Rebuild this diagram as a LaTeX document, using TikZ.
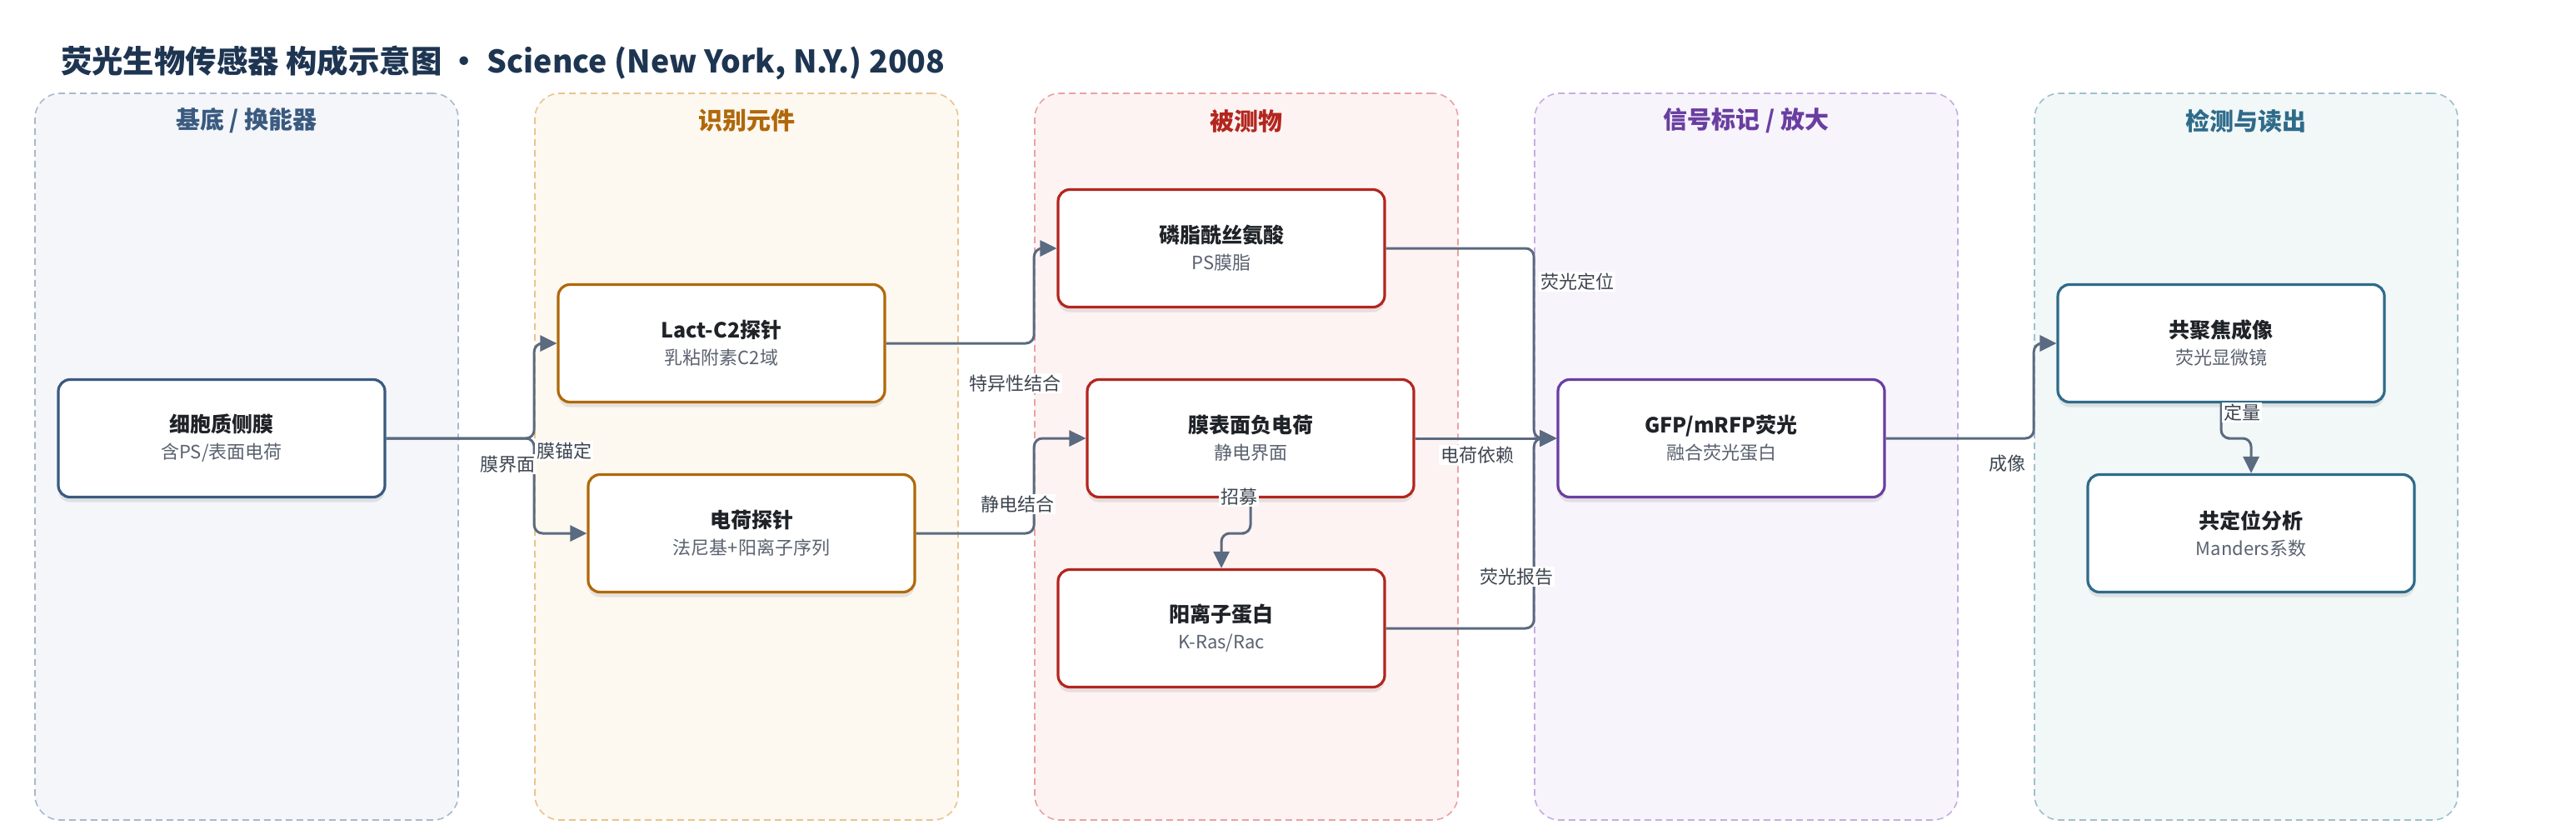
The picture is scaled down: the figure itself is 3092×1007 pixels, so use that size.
\documentclass[tikz,border=0pt]{standalone}
\usepackage{fontspec}
\setmainfont{Noto Sans CJK SC}
\usetikzlibrary{arrows.meta,calc,shadows}

\definecolor{titleblue}{HTML}{1E3552}
\definecolor{ink}{HTML}{1F2328}
\definecolor{subgray}{HTML}{5A6270}
\definecolor{edgegray}{HTML}{5A6A80}
\definecolor{lblgray}{HTML}{3D4550}
% lane colours: fill / dash / head
\definecolor{fillA}{HTML}{F4F6FA}\definecolor{dashA}{HTML}{AAB8CC}\definecolor{headA}{HTML}{3A5A80}
\definecolor{fillB}{HTML}{FDF8F0}\definecolor{dashB}{HTML}{E9C48E}\definecolor{headB}{HTML}{B0680A}
\definecolor{fillC}{HTML}{FDF3F3}\definecolor{dashC}{HTML}{E8A3A3}\definecolor{headC}{HTML}{B3261E}
\definecolor{fillD}{HTML}{F7F4FB}\definecolor{dashD}{HTML}{C5AEE0}\definecolor{headD}{HTML}{6A3EA1}
\definecolor{fillE}{HTML}{F2F7F8}\definecolor{dashE}{HTML}{9EC0CC}\definecolor{headE}{HTML}{2E6B8A}

\begin{document}
\begin{tikzpicture}[x=0.5pt, y=-0.5pt,
	lane/.style={draw, dash pattern=on 4pt off 2.5pt, line width=0.8pt, rounded corners=15pt,
		minimum width=254pt, minimum height=436pt},
	lanehead/.style={font=\bfseries\fontsize{14.5}{17}\selectfont},
	box/.style={draw, fill=white, line width=1.6pt, rounded corners=7pt, minimum width=196pt,
		minimum height=70.5pt, align=center, text=ink, font=\fontsize{12.5}{16}\selectfont,
		drop shadow={shadow xshift=0pt, shadow yshift=-3pt, opacity=0.18}},
	link/.style={draw=edgegray, line width=1.5pt, rounded corners=5pt, -{Triangle[length=10pt,width=9.5pt]}},
	lbl/.style={fill=white, inner sep=1pt, text=lblgray, font=\fontsize{11}{13}\selectfont}]
	\useasboundingbox (0,0) rectangle (3092,1007);

	% Title
	\node[anchor=west, text=titleblue, font=\bfseries\fontsize{18.7}{22}\selectfont] (title) at (66,75)
		{荧光生物传感器 构成示意图 • Science (New York, N.Y.) 2008};

	% Swim lanes
	\foreach \i/\x/\lname/\col in {1/296/{基底 / 换能器}/A, 2/896/识别元件/B, 3/1496/被测物/C,
		4/2096/{信号标记 / 放大}/D, 5/2696/检测与读出/E} {
		\node[lane, fill=fill\col, draw=dash\col] (lane\i) at (\x,548) {};
		\node[lanehead, text=head\col] (head\i) at (\x,145) {\lname};
	}

	% Components
	\node[box, draw=headA] (mem) at (266,526) {\textbf{细胞质侧膜}\\{\color{subgray}\fontsize{11}{13}\selectfont 含PS/表面电荷}};
	\node[box, draw=headB] (lact) at (866,412) {\textbf{Lact-C2探针}\\{\color{subgray}\fontsize{11}{13}\selectfont 乳粘附素C2域}};
	\node[box, draw=headB] (charge) at (902,640) {\textbf{电荷探针}\\{\color{subgray}\fontsize{11}{13}\selectfont 法尼基+阳离子序列}};
	\node[box, draw=headC] (ps) at (1466,298) {\textbf{磷脂酰丝氨酸}\\{\color{subgray}\fontsize{11}{13}\selectfont PS膜脂}};
	\node[box, draw=headC] (neg) at (1501,526) {\textbf{膜表面负电荷}\\{\color{subgray}\fontsize{11}{13}\selectfont 静电界面}};
	\node[box, draw=headC] (cat) at (1466,754) {\textbf{阳离子蛋白}\\{\color{subgray}\fontsize{11}{13}\selectfont K-Ras/Rac}};
	\node[box, draw=headD] (gfp) at (2066,526) {\textbf{GFP/mRFP荧光}\\{\color{subgray}\fontsize{11}{13}\selectfont 融合荧光蛋白}};
	\node[box, draw=headE] (conf) at (2666,412) {\textbf{共聚焦成像}\\{\color{subgray}\fontsize{11}{13}\selectfont 荧光显微镜}};
	\node[box, draw=headE] (coloc) at (2702,640) {\textbf{共定位分析}\\{\color{subgray}\fontsize{11}{13}\selectfont Manders系数}};

	% Connectors
	\draw[link] (mem.east) -- (mem.east -| lane2.west) |- (lact.west);
	\draw[link] (mem.east) -- (mem.east -| lane2.west) |- (charge.west);
	\draw[link] (lact.east) -- (lact.east -| lane3.west) |- (ps.west);
	\draw[link] (charge.east) -- (charge.east -| lane3.west) |- (neg.west);
	\draw[link] (neg.south) |- ($(neg.south)!.5!(cat.north)$) -| (cat.north);
	\draw[link] (ps.east) -- (ps.east -| lane4.west) |- (gfp.west);
	\draw[link] (neg.east) -- (gfp.west);
	\draw[link] (cat.east) -- (cat.east -| lane4.west) |- (gfp.west);
	\draw[link] (gfp.east) -- (gfp.east -| lane5.west) |- (conf.west);
	\draw[link] (conf.south) |- ($(conf.south)!.5!(coloc.north)$) -| (coloc.north);

	% Connector labels
	\node[lbl] (anchorlbl) at (677,541) {膜锚定};
	\node[lbl] (faceLbl) at (609,557) {膜界面};
	\node[lbl] (specLbl) at (1218,460) {特异性结合};
	\node[lbl] (elecLbl) at (1221,605) {静电结合};
	\node[lbl] (recLbl) at (1487,596) {招募};
	\node[lbl] (locLbl) at (1893,338) {荧光定位};
	\node[lbl] (depLbl) at (1773,546) {电荷依赖};
	\node[lbl] (repLbl) at (1820,692) {荧光报告};
	\node[lbl] (imgLbl) at (2409,556) {成像};
	\node[lbl] (quantLbl) at (2691,495) {定量};
\end{tikzpicture}
\end{document}
